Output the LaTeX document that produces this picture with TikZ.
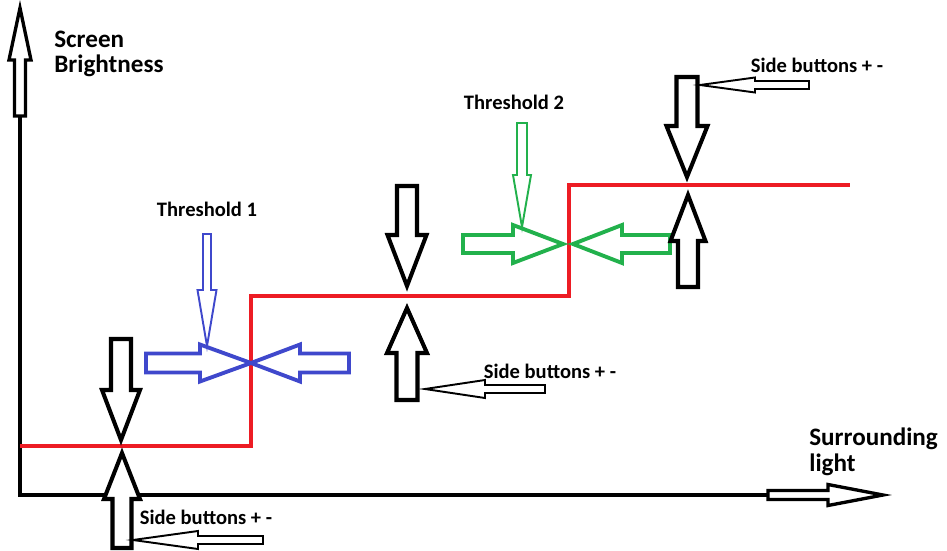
\documentclass[tikz,border=0pt]{standalone}
\usepackage{fontspec}
\setmainfont{Carlito}
\usetikzlibrary{positioning}
\definecolor{stepred}{HTML}{ED1C24}
\definecolor{thblue}{HTML}{3F48CC}
\definecolor{thgreen}{HTML}{22B14C}

\begin{document}
\begin{tikzpicture}[x=0.02cm, y=-0.02cm,
  lbl/.style={font=\bfseries\fontsize{11.7}{14}\selectfont, inner sep=0pt},
  axlbl/.style={font=\bfseries\fontsize{14.3}{14.5}\selectfont, align=left, inner sep=0pt, anchor=west},
  axline/.style={line width=2.2pt},
  stepline/.style={stepred, line width=2.1pt},
  axarr/.style={line width=1.9pt, fill=white},
  btn/.style={line width=2.3pt, fill=white},
  ptr/.style={line width=1.1pt, fill=white},
  thk/.style={line width=2.2pt, fill=white},
  thn/.style={line width=1.1pt, fill=white},
  pics/barrow/.style n args={4}{code={
    \draw[pic actions] (0,0) -- (-#4,#3) -- (-#4,#2) -- (-#1,#2) -- (-#1,-#2)
      -- (-#4,-#2) -- (-#4,-#3) -- cycle;
  }}
]
  \useasboundingbox (0,0) rectangle (947,551);

  % axes
  \coordinate (origin) at (20,495);
  \draw[axline] (20,116) -- (origin) -- (768,495);
  \pic[axarr, rotate=90] at (20,8) {barrow={108}{5.5}{11}{52}};
  \pic[axarr] at (883,495) {barrow={115}{4.5}{10.5}{55}};
  \node[axlbl] (ylab) at (54,54) {Screen\\Brightness};
  \node[axlbl] (xlab) at (809,452) {Surrounding\\light};

  % brightness steps
  \draw[stepline] (20,446) -- (251,446) -- (251,296) -- (569,296) -- (569,185) -- (850,185);

  % threshold 1
  \coordinate (th1x) at (251,363);
  \pic[color=thblue, thk] at (th1x) {barrow={105}{9.5}{18.5}{51}};
  \pic[color=thblue, thk, rotate=180] at (th1x) {barrow={98}{9.5}{18.5}{49}};
  \pic[color=thblue, thn, rotate=-90] at (207,346) {barrow={112}{4}{9.5}{56}};
  \node[lbl] (th1) at (207,209) {Threshold 1};

  % threshold 2
  \pic[color=thgreen, thk] at (563,244) {barrow={100}{9}{19}{50}};
  \pic[color=thgreen, thk, rotate=180] at (573,244) {barrow={97}{9}{19}{49}};
  \pic[color=thgreen, thn, rotate=-90] at (522,227) {barrow={104}{5}{9}{52}};
  \node[lbl] (th2) at (514,102) {Threshold 2};

  % side buttons
  \pic[btn, rotate=-90] at (121,440) {barrow={101}{10}{19}{50}};
  \pic[btn, rotate=90] at (122,453) {barrow={95}{9.5}{18}{46}};
  \pic[ptr, rotate=180] at (133,540) {barrow={130}{4}{9}{65}};
  \node[lbl] (sb1) at (206,517) {Side buttons + -};

  \pic[btn, rotate=-90] at (407,286) {barrow={100}{10}{19.5}{51}};
  \pic[btn, rotate=90] at (407,308) {barrow={92}{10.5}{20}{45}};
  \pic[ptr, rotate=180] at (425,389) {barrow={120}{4}{9}{60}};
  \node[lbl] (sb2) at (550,371) {Side buttons + -};

  \pic[btn, rotate=-90] at (687,177) {barrow={100}{10.5}{20.5}{51}};
  \pic[btn, rotate=90] at (688,195) {barrow={92}{10}{17.5}{46}};
  \pic[ptr, rotate=180] at (700,85) {barrow={109}{4}{7.5}{55}};
  \node[lbl] (sb3) at (817,65) {Side buttons + -};
\end{tikzpicture}
\end{document}
